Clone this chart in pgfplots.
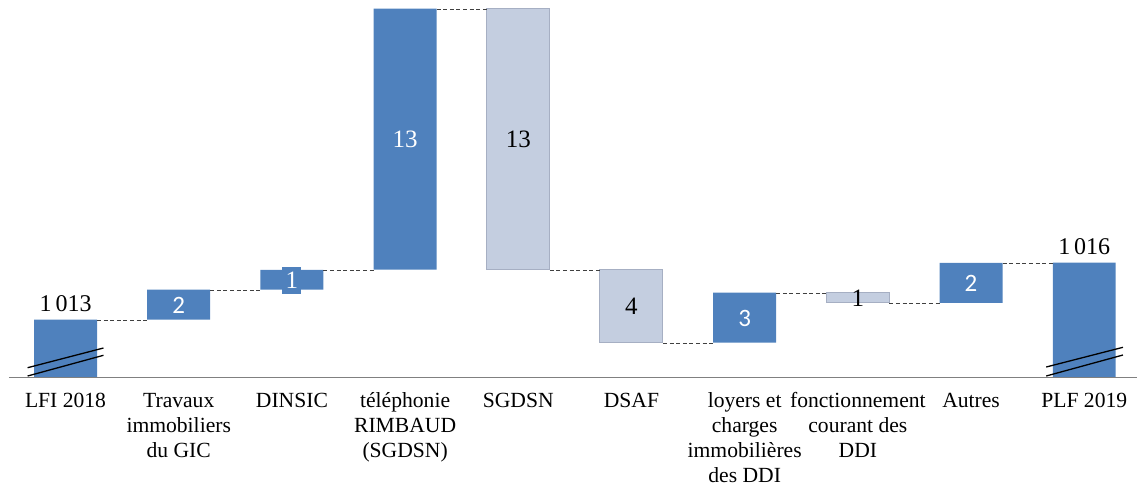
\documentclass[border=0pt]{standalone}
\usepackage{fontspec}
\setmainfont{Liberation Serif}
\newfontfamily\barfont{Carlito}
\usepackage{pgfplots}
\pgfplotsset{compat=1.18}
\usepackage{pgfplotstable}

\definecolor{barblue}{RGB}{79,129,189}
\definecolor{barlight}{RGB}{196,206,224}
\definecolor{barlightedge}{RGB}{166,175,195}
\definecolor{linkgray}{RGB}{64,64,64}
\definecolor{basegray}{RGB}{128,128,128}

% Increases (and the two totals): invisible base + visible rise
\pgfplotstableread{
cat base rise
0 0 1013
1 1013 1.5
2 1014.5 1.0
3 1015.5 13.05
4 0 0
5 0 0
6 1011.85 2.5
7 0 0
8 1013.85 2.0
9 0 1015.85
}\risetable

% Decreases: invisible base + visible fall
\pgfplotstableread{
cat base fall
0 0 0
1 0 0
2 0 0
3 0 0
4 1015.5 13.05
5 1011.85 3.65
6 0 0
7 1013.85 0.5
8 0 0
9 0 0
}\falltable

% Dashed links between consecutive bars
\pgfplotstableread{
x y
0.2783 1013
0.7217 1013
nan nan
1.2783 1014.5
1.7217 1014.5
nan nan
2.2783 1015.5
2.7217 1015.5
nan nan
3.2783 1028.55
3.7217 1028.55
nan nan
4.2783 1015.5
4.7217 1015.5
nan nan
5.2783 1011.85
5.7217 1011.85
nan nan
6.2783 1014.35
6.7217 1014.35
nan nan
7.2783 1013.85
7.7217 1013.85
nan nan
8.2783 1015.85
8.7217 1015.85
}\linktable

\pgfplotstableread{
x y label
1 1013.75 2
6 1013.1 3
8 1014.85 2
}\darklabels

\pgfplotstableread{
x y label
3 1022.025 13
}\darkseriflabels

\pgfplotstableread{
x y label
4 1022.025 13
5 1013.675 4
7 1014.1 1
}\lightlabels

\pgfplotstableread{
x y label
2 1015.0 1
}\boxlabels

\pgfplotstableread{
x y label
0 1013 {1\,013}
9 1015.85 {1\,016}
}\totallabels

\pgfplotsset{
  wf/.style={
    scale only axis,
    width=568.5pt, height=188.85pt,
    xmin=-0.579, xmax=9.466,
    ymin=1010.115, ymax=1029,
  },
  barlabel/.style={
    nodes near coords,
    point meta=explicit symbolic,
    nodes near coords align=center,
    every node near coord/.append style={anchor=center,
      font=\barfont\fontsize{12.5}{13}\selectfont},
  },
  seriflabel/.style={
    nodes near coords,
    point meta=explicit symbolic,
    nodes near coords align=center,
    every node near coord/.append style={anchor=center,
      font=\fontsize{12.5}{13}\selectfont},
  },
}

\begin{document}
\begin{tikzpicture}
\useasboundingbox (0,-58.65pt) rectangle (568.5pt,188.85pt);

\begin{axis}[wf, ybar stacked, bar width=0.5565,
  axis line style={draw=none}, major tick length=0pt,
  ytick=\empty, xtick={0,...,9},
  xticklabels={
    \strut LFI 2018,
    {\strut Travaux\\immobiliers\\du GIC},
    \strut DINSIC,
    {\strut téléphonie\\RIMBAUD\\(SGDSN)},
    \strut SGDSN,
    \strut DSAF,
    {\strut loyers et\\charges\\immobilières\\des DDI},
    {\strut fonctionnement\\courant des\\DDI},
    \strut Autres,
    \strut PLF 2019},
  xticklabel style={align=center, anchor=north, inner sep=0pt,
    yshift=-5.9pt, font=\fontsize{10.8}{12.5}\selectfont},
]
\addplot[draw=none, fill=none] table[x=cat, y=base] {\risetable};
\addplot[draw=none, fill=barblue] table[x=cat, y=rise] {\risetable};
\end{axis}

\begin{axis}[wf, hide axis, ybar stacked, bar width=0.5565]
\addplot[draw=none, fill=none] table[x=cat, y=base] {\falltable};
\addplot[draw=barlightedge, line width=0.5pt, fill=barlight]
  table[x=cat, y=fall] {\falltable};
\end{axis}

\begin{axis}[wf, hide axis, clip=false]
% category axis line
\draw[basegray, line width=0.75pt] (axis cs:-0.5,1010.115) -- (axis cs:9.466,1010.115);
% links
\addplot[linkgray, line width=0.5pt, dash pattern=on 2pt off 1.3pt,
  unbounded coords=jump, mark=none] table[x=x, y=y] {\linktable};
% axis-break marks on the two totals
\addplot[black, line width=0.65pt, mark=none] coordinates {(-0.335,1010.615) (0.335,1011.6)};
\addplot[black, line width=0.65pt, mark=none] coordinates {(-0.335,1010.2) (0.335,1011.235)};
\addplot[black, line width=0.65pt, mark=none] coordinates {(8.664,1010.65) (9.342,1011.635)};
\addplot[black, line width=0.65pt, mark=none] coordinates {(8.664,1010.2) (9.342,1011.25)};
% value labels
\addplot[draw=none, mark=none, barlabel,
  every node near coord/.append style={text=white}]
  table[x=x, y=y, meta=label] {\darklabels};
\addplot[draw=none, mark=none, seriflabel,
  every node near coord/.append style={text=white}]
  table[x=x, y=y, meta=label] {\darkseriflabels};
\addplot[draw=none, mark=none, seriflabel,
  every node near coord/.append style={text=black}]
  table[x=x, y=y, meta=label] {\lightlabels};
\addplot[draw=none, mark=none, seriflabel,
  every node near coord/.append style={text=white, fill=barblue,
    inner sep=0pt, minimum width=9.5pt, minimum height=13.5pt}]
  table[x=x, y=y, meta=label] {\boxlabels};
\addplot[draw=none, mark=none, nodes near coords, point meta=explicit symbolic,
  every node near coord/.append style={anchor=south, inner sep=0pt, yshift=4pt,
    font=\fontsize{12}{13}\selectfont, text=black}]
  table[x=x, y=y, meta=label] {\totallabels};
\end{axis}
\end{tikzpicture}
\end{document}
